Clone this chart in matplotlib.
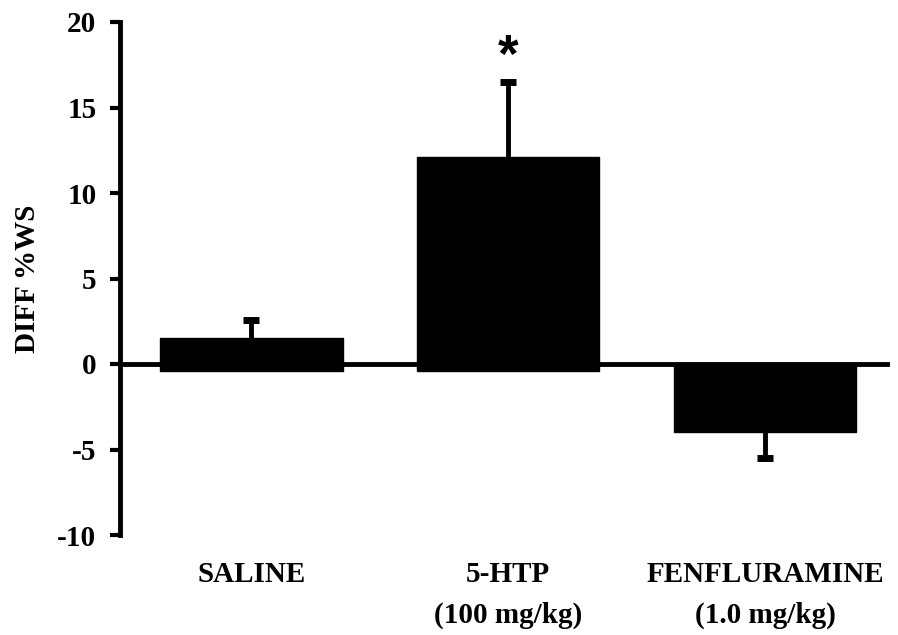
import numpy as np
import matplotlib
matplotlib.use("Agg")
import matplotlib.pyplot as plt

# Daten
groups = ["SALINE", "5-HTP\n(100 mg/kg)", "FENFLURAMINE\n(1.0 mg/kg)"]
diff_ws = np.array([1.5, 12.1, -4.0])
err = np.array([1.1, 4.4, 1.5])  # einseitig, in Richtung des Balkens
sig_marks = ["", "*", ""]
yticks = [-10, -5, 0, 5, 10, 15, 20]

plt.rcParams["font.family"] = ["Liberation Serif", "DejaVu Serif"]
plt.rcParams["font.weight"] = "bold"
plt.rcParams["axes.unicode_minus"] = False

fig = plt.figure(figsize=(8.98, 6.35), dpi=100)
ax = fig.add_axes([120 / 898, 1 - 535 / 635, 770 / 898, 513 / 635])

x = np.arange(len(groups))
overhang = np.where(diff_ws > 0, -0.4, 0.0)  # Balken ragen leicht unter die Nulllinie
ax.bar(x, diff_ws - overhang, bottom=overhang, width=0.71, color="black",
       edgecolor="black", linewidth=1, zorder=3)

# Fehlerbalken nur nach außen
tips = diff_ws + np.sign(diff_ws) * err
ax.vlines(x, diff_ws, tips, color="black", linewidth=3.5, zorder=2)
ax.plot(x, tips, linestyle="none", marker="_", markersize=12,
        markeredgewidth=5, color="black", zorder=2)

ax.axhline(0, color="black", linewidth=3.5, zorder=2)

for xi, t, m in zip(x, tips, sig_marks):
    if m:
        ax.text(xi, t + 1.4, m, ha="center", va="center", fontsize=38,
                fontweight="bold", family="Liberation Sans")

ax.set_xlim(-0.512, 2.487)
ax.set_ylim(-10, 20)
ax.set_yticks(yticks)
ax.set_xticks(x)
ax.set_xticklabels(groups, fontsize=21, fontweight="bold", linespacing=1.65)
ax.tick_params(axis="x", length=0, pad=19)
ax.tick_params(axis="y", length=7, width=3, pad=10, labelsize=21, direction="out")
for lab in ax.get_yticklabels():
    lab.set_fontweight("bold")

ax.set_ylabel("DIFF %WS", fontsize=21, fontweight="bold")
ax.yaxis.set_label_coords(-0.1026, 0.5)

for side in ["top", "right", "bottom"]:
    ax.spines[side].set_visible(False)
ax.spines["left"].set_linewidth(3.5)

fig.savefig("out.png", dpi=100)
